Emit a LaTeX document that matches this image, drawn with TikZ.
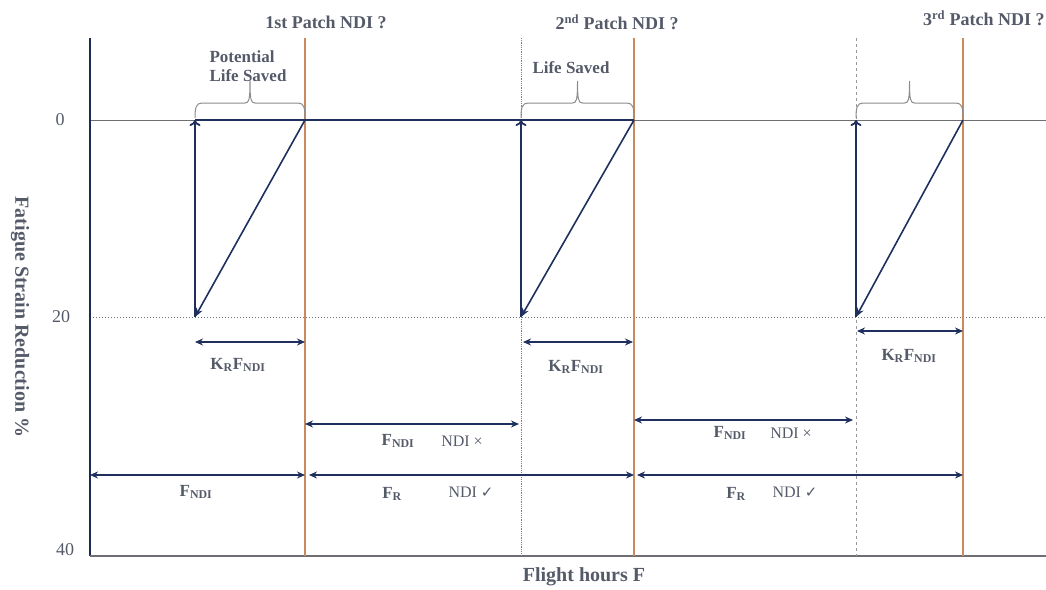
\documentclass[tikz,border=0pt]{standalone}
\usepackage{fontspec}
\setmainfont{Liberation Serif}
\newfontfamily\symfont{DejaVu Sans}
\usepackage{tikz}
\usetikzlibrary{arrows, arrows.meta, positioning}
\definecolor{navy}{RGB}{31,48,94}
\definecolor{patchorange}{RGB}{201,138,94}
\definecolor{txtgray}{RGB}{85,90,105}
\definecolor{axisgray}{RGB}{110,110,115}

\begin{document}
\begin{tikzpicture}[
    x=1pt, y=-1pt,
    thick,
    title text/.style={text=txtgray,font=\fontsize{18}{21}\selectfont\bfseries},
    label text/.style={text=txtgray,font=\fontsize{17}{19}\selectfont\bfseries},
    plain text/.style={text=txtgray,font=\fontsize{16}{19}\selectfont},
    tick text/.style={text=txtgray,font=\fontsize{18}{20}\selectfont},
    dim arrow/.style={{Stealth[length=8pt,width=7pt]}-{Stealth[length=8pt,width=7pt]},draw=navy,line width=1.8pt},
    drop arrow/.style={-{Stealth[length=9pt,width=7pt]},draw=navy,line width=1.6pt},
    rise arrow/.style={-{To[length=6pt,width=11pt]},draw=navy,line width=1.8pt},
    patch line/.style={draw=patchorange,line width=2.4pt},
    brace line/.style={draw=gray!90,line width=1pt}
]
\useasboundingbox (0,0) rectangle (1046,589);

% Axes and grid
\coordinate (origin) at (90,556);
\coordinate (ytop) at (90,38);
\coordinate (xend) at (1046,556);
\coordinate (zeroL) at (90,120);
\coordinate (zeroR) at (1046,120);
\coordinate (twentyL) at (90,317);
\coordinate (twentyR) at (1046,317);
\draw[axisgray,line width=0.9pt] (zeroL) -- (zeroR);
\draw[axisgray,dotted,line width=1pt] (twentyL) -- (twentyR);
\draw[navy!90!black,line width=2.4pt] (ytop) -- (origin);
\draw[axisgray,line width=2.4pt] (origin) -- (xend);

\node[tick text] (tick0) at (60,120) {0};
\node[tick text] (tick20) at (61,317) {20};
\node[tick text] (tick40) at (65,550) {40};
\node[text=txtgray,font=\fontsize{20}{22}\selectfont\bfseries,rotate=-90] (ylabel) at (20,317) {Fatigue Strain Reduction \%};
\node[text=txtgray,font=\fontsize{20}{22}\selectfont\bfseries] (xlabel) at (584,577) {Flight hours F};

% Patch and inspection lines
\foreach \px [count=\i] in {305,634,963} {
  \coordinate (patchtop\i) at (\px,38);
  \coordinate (patchbot\i) at (\px,556);
  \draw[patch line] (patchtop\i) -- (patchbot\i);
}
\coordinate (ndi2top) at (521,38);
\coordinate (ndi2bot) at (521,556);
\coordinate (ndi3top) at (856,38);
\coordinate (ndi3bot) at (856,556);
\draw[gray,densely dotted,line width=0.8pt] (ndi2top) -- (ndi2bot);
\draw[gray!80,dashed,line width=1pt] (ndi3top) -- (ndi3bot);

\node[title text] (patch1) at (326,22) {1st Patch NDI ?};
\node[title text] (patch2) at (617,22) {2\textsuperscript{nd} Patch NDI ?};
\node[title text,anchor=east,inner sep=1pt] (patch3) at (1046,18) {3\textsuperscript{rd} Patch NDI ?};

% Strain reduction triangles
\foreach \lx/\rx [count=\i] in {195/305,521/634,856/963} {
  \pgfmathsetmacro\mx{(\lx+\rx)/2}
  \coordinate (up\i) at (\lx,120);
  \coordinate (low\i) at (\lx,317);
  \coordinate (hit\i) at (\rx,120);
  \draw[rise arrow] (low\i) -- (up\i);
  \draw[drop arrow] (hit\i) -- (low\i);
  % brace
  \draw[brace line] (\lx,118) .. controls (\lx,108) and (\lx+1,103) .. (\lx+7,103)
    -- (\mx-5,103) .. controls (\mx-1,103) and (\mx,100) .. (\mx,81)
    .. controls (\mx,100) and (\mx+1,103) .. (\mx+5,103)
    -- (\rx-7,103) .. controls (\rx-1,103) and (\rx,108) .. (\rx,118);
}
\draw[navy,line width=1.5pt] (up1) -- (hit2);

\node[label text,align=left] (potential) at (248,66) {Potential\\Life Saved};
\node[label text] (saved) at (571,68) {Life Saved};

% K_R F_NDI spans
\coordinate (kr1a) at (195,342);
\coordinate (kr1b) at (305,342);
\coordinate (kr2a) at (523,342);
\coordinate (kr2b) at (633,342);
\coordinate (kr3a) at (857,331);
\coordinate (kr3b) at (963,331);
\draw[dim arrow] (kr1a) -- (kr1b);
\draw[dim arrow] (kr2a) -- (kr2b);
\draw[dim arrow] (kr3a) -- (kr3b);
\node[label text] (krlbl1) at (238,365) {K\textsubscript{R}F\textsubscript{NDI}};
\node[label text] (krlbl2) at (576,367) {K\textsubscript{R}F\textsubscript{NDI}};
\node[label text] (krlbl3) at (909,356) {K\textsubscript{R}F\textsubscript{NDI}};

% NDI missed spans
\coordinate (miss1a) at (305,424);
\coordinate (miss1b) at (519,424);
\coordinate (miss2a) at (634,420);
\coordinate (miss2b) at (853,420);
\draw[dim arrow] (miss1a) -- (miss1b);
\draw[dim arrow] (miss2a) -- (miss2b);
\node[label text] (fndi1) at (398,441) {F\textsubscript{NDI}};
\node[plain text] (miss1) at (462,441) {NDI \texttimes};
\node[label text] (fndi2) at (730,433) {F\textsubscript{NDI}};
\node[plain text] (miss2) at (791,433) {NDI \texttimes};

% NDI found spans
\coordinate (find0a) at (90,475);
\coordinate (find0b) at (305,475);
\coordinate (find1a) at (309,475);
\coordinate (find1b) at (634,475);
\coordinate (find2a) at (637,475);
\coordinate (find2b) at (963,475);
\draw[dim arrow] (find0a) -- (find0b);
\draw[dim arrow] (find1a) -- (find1b);
\draw[dim arrow] (find2a) -- (find2b);
\node[label text] (fndi0) at (196,492) {F\textsubscript{NDI}};
\node[label text] (fr1) at (392,494) {F\textsubscript{R}};
\node[plain text] (found1) at (471,492) {NDI {\symfont\fontsize{15}{17}\selectfont ✓}};
\node[label text] (fr2) at (736,494) {F\textsubscript{R}};
\node[plain text] (found2) at (795,492) {NDI {\symfont\fontsize{15}{17}\selectfont ✓}};

\end{tikzpicture}
\end{document}
